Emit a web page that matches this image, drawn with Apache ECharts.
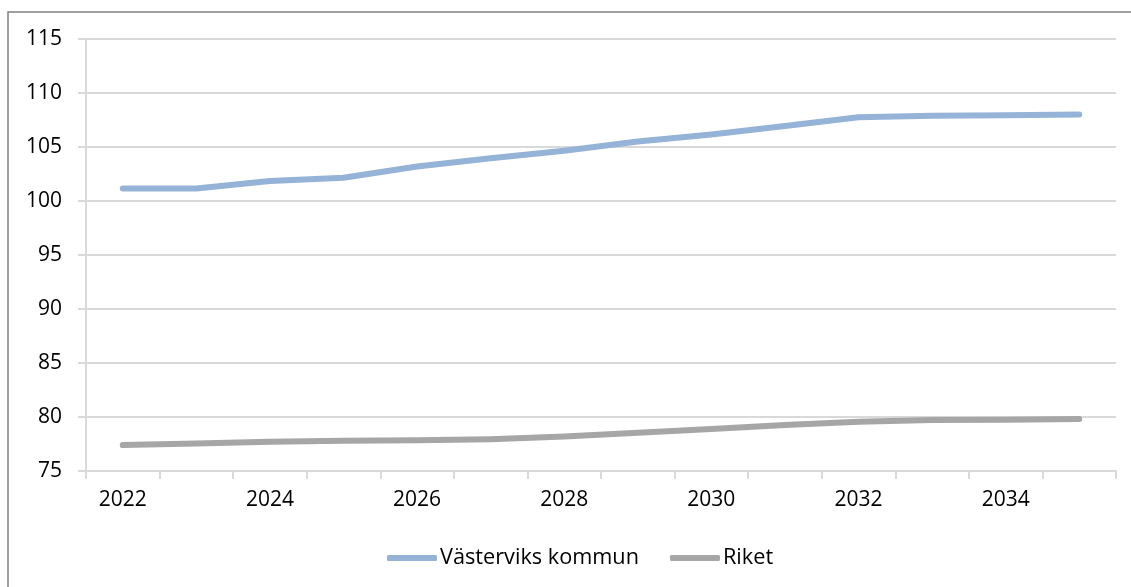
<!DOCTYPE html>
<html>
<head>
<meta charset="utf-8">
<script src="https://cdn.jsdelivr.net/npm/echarts@6/dist/echarts.min.js"></script>
<style>
html,body{margin:0;padding:0;background:#fff;}
#chart{width:1131px;height:587px;}
</style>
</head>
<body>
<div id="chart"></div>
<script>
const years = ['2022','2023','2024','2025','2026','2027','2028','2029','2030','2031','2032','2033','2034','2035'];
const vastervik = [101.15, 101.15, 101.85, 102.15, 103.2, 103.95, 104.65, 105.5, 106.15, 106.95, 107.75, 107.9, 107.95, 108.0];
const riket = [77.4, 77.55, 77.7, 77.8, 77.85, 77.95, 78.2, 78.55, 78.9, 79.25, 79.55, 79.72, 79.75, 79.82];
const seriesNames = ['Västerviks kommun', 'Riket'];
const yMin = 75, yMax = 115, yStep = 5;

const FONT = 'Open Sans';
const chart = echarts.init(document.getElementById('chart'), null, {renderer: 'canvas'});
chart.setOption({
  animation: false,
  backgroundColor: '#ffffff',
  graphic: [{
    type: 'rect',
    shape: {x: 8, y: 12, width: 1300, height: 700},
    style: {fill: 'none', stroke: '#808080', lineWidth: 1.5},
    silent: true
  }],
  grid: {left: 86, top: 39, right: 15, bottom: 116, containLabel: false},
  legend: {
    left: 382, top: 542,
    itemWidth: 50, itemHeight: 6, itemGap: 31,
    icon: 'roundRect',
    textStyle: {fontFamily: FONT, fontSize: 21.7, color: '#000', padding: [0, 0, 0, -2]},
    data: seriesNames
  },
  xAxis: {
    type: 'category',
    data: years,
    boundaryGap: true,
    axisLine: {lineStyle: {color: '#d9d9d9', width: 2}},
    axisTick: {show: true, alignWithLabel: false, interval: 0, length: 8, lineStyle: {color: '#d9d9d9', width: 2}},
    axisLabel: {interval: 1, margin: 19, fontFamily: FONT, fontSize: 21, color: '#000'},
    splitLine: {show: false}
  },
  yAxis: {
    type: 'value',
    min: yMin, max: yMax, interval: yStep,
    axisLine: {show: true, lineStyle: {color: '#d9d9d9', width: 2}},
    axisTick: {show: true, length: 8, lineStyle: {color: '#d9d9d9', width: 2}},
    axisLabel: {margin: 24, fontFamily: FONT, fontSize: 21, color: '#000'},
    splitLine: {show: true, lineStyle: {color: '#d9d9d9', width: 2}}
  },
  series: [
    {
      name: seriesNames[0], type: 'line', data: vastervik,
      symbol: 'none', itemStyle: {color: '#95b3d7'},
      lineStyle: {color: '#95b3d7', width: 6, cap: 'round', join: 'round'}
    },
    {
      name: seriesNames[1], type: 'line', data: riket,
      symbol: 'none', itemStyle: {color: '#a6a6a6'},
      lineStyle: {color: '#a6a6a6', width: 6, cap: 'round', join: 'round'}
    }
  ]
});
</script>
</body>
</html>
